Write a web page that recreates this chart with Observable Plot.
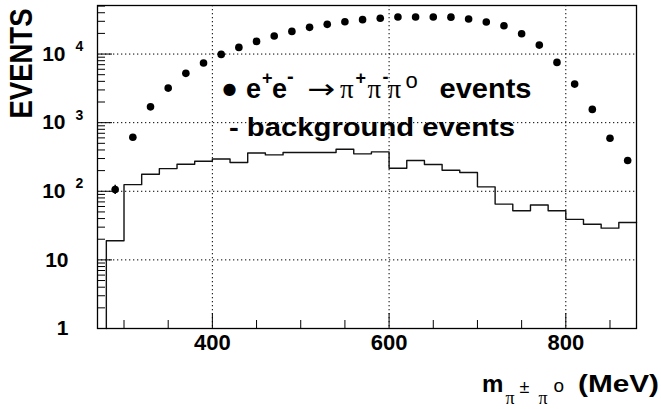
<!DOCTYPE html>
<html>
<head>
<meta charset="utf-8">
<script src="https://cdn.jsdelivr.net/npm/d3@7"></script>
<script src="https://cdn.jsdelivr.net/npm/@observablehq/plot@0.6"></script>
<style>
  html, body { margin: 0; padding: 0; background: #fff; }
  #chart svg { display: block; }
</style>
</head>
<body>
<div id="chart"></div>
<script>
// π±π0 invariant-mass spectrum, 20 MeV bins (bin centres in MeV)
const massBins = [290, 310, 330, 350, 370, 390, 410, 430, 450, 470,
                  490, 510, 530, 550, 570, 590, 610, 630, 650, 670,
                  690, 710, 730, 750, 770, 790, 810, 830, 850, 870];
const binWidth = 20;

// selected e+e- -> π+π-π0 events per bin
const signalEvents = [106, 614, 1700, 3190, 5230, 7390, 9890, 12500, 15300, 18300,
                      21400, 24500, 27100, 29600, 31700, 33200, 34700, 34700, 34700, 34500,
                      32400, 29300, 25900, 19800, 13500, 7560, 3650, 1560, 594, 281];
const signalErrors = [16, 25, 41, 56, 72, 86, 99, 112, 124, 135,
                      146, 157, 165, 172, 178, 182, 186, 186, 186, 186,
                      180, 171, 161, 141, 116, 87, 60, 39, 24, 17];

// estimated background events per bin
const backgroundEvents = [19, 125, 177, 214, 248, 274, 296, 262, 362, 339,
                          367, 367, 367, 410, 351, 375, 217, 281, 245, 203,
                          188, 116, 65, 52, 63, 52, 39, 33, 29, 35];

// axes
const xDomain = [270, 880];
const yDomain = [1, 51000];
const xMajorTicks = [400, 600, 800];
const xTickLabels = ["400", "600", "800"];
const xMinorTicks = [300, 350, 450, 500, 550, 650, 700, 750, 850];
const yMajorTicks = [1, 10, 100, 1000, 10000];
const yTickBase = ["1", "10", "10", "10", "10"];
const yTickExponent = ["", "", "2", "3", "4"];
const yMinorTicks = [1, 10, 100, 1000, 10000]
  .flatMap(d => [2, 3, 4, 5, 6, 7, 8, 9].map(k => k * d))
  .filter(v => v < yDomain[1]);

const signal = massBins.map((m, i) => ({m, n: signalEvents[i], e: signalErrors[i]}));
// outline of the background histogram: rises from the floor at the first bin edge
const bgOutline = [{x: massBins[0] - binWidth / 2, y: yDomain[0]}]
  .concat(massBins.map((m, i) => ({x: m - binWidth / 2, y: backgroundEvents[i]})))
  .concat([{x: massBins[massBins.length - 1] + binWidth / 2, y: backgroundEvents[backgroundEvents.length - 1]}]);
const yLabels = yMajorTicks.map((v, i) => ({v, base: yTickBase[i], exp: yTickExponent[i]}));

const W = 661, H = 409;
const M = {top: 5, right: 25, bottom: 81, left: 97};
const innerW = W - M.left - M.right;
const innerH = H - M.top - M.bottom;
const font = "'Liberation Sans', Arial, Helvetica, sans-serif";
const serif = "'Liberation Serif', 'Times New Roman', serif";

const plot = Plot.plot({
  width: W,
  height: H,
  marginTop: M.top,
  marginRight: M.right,
  marginBottom: M.bottom,
  marginLeft: M.left,
  style: {fontFamily: font, background: "white", color: "black"},
  x: {type: "linear", domain: xDomain, axis: null},
  y: {type: "log", domain: yDomain, axis: null},
  marks: [
    // dotted grid
    Plot.ruleX(xMajorTicks, {x: d => d, stroke: "black", strokeWidth: 1, strokeDasharray: "1.3,2.7"}),
    Plot.ruleY(yMajorTicks.slice(1), {y: d => d, stroke: "black", strokeWidth: 1, strokeDasharray: "1.3,2.7"}),
    // inward ticks
    Plot.ruleX(xMinorTicks, {x: d => d, insetTop: innerH - 8, stroke: "black", strokeWidth: 1}),
    Plot.ruleX(xMajorTicks, {x: d => d, insetTop: innerH - 15, stroke: "black", strokeWidth: 1}),
    Plot.ruleY(yMinorTicks, {y: d => d, insetRight: innerW - 8, stroke: "black", strokeWidth: 1}),
    Plot.ruleY(yMajorTicks, {y: d => d, insetRight: innerW - 15, stroke: "black", strokeWidth: 1}),
    // background histogram
    Plot.line(bgOutline, {x: "x", y: "y", curve: "step-after", stroke: "#111", strokeWidth: 1.4}),
    // signal events with errors
    Plot.ruleX(signal, {x: "m", y1: d => d.n - d.e, y2: d => d.n + d.e, stroke: "black", strokeWidth: 1.5}),
    Plot.dot(signal, {x: "m", y: "n", r: 3.8, fill: "black", stroke: "none"}),
    Plot.frame({stroke: "black", strokeWidth: 1.3}),
    // tick labels
    Plot.text(xMajorTicks, {x: d => d, text: (d, i) => xTickLabels[i], frameAnchor: "bottom", dy: 21,
      fontSize: 22, fontWeight: "bold", fill: "black"}),
    Plot.text(yLabels.filter(d => !d.exp), {y: "v", text: "base", frameAnchor: "left", dx: -29,
      textAnchor: "end", fontSize: 21, fontWeight: "bold", fill: "black"}),
    Plot.text(yLabels.filter(d => d.exp), {y: "v", text: "base", frameAnchor: "left", dx: -32,
      textAnchor: "end", fontSize: 21, fontWeight: "bold", fill: "black"}),
    Plot.text(yLabels.filter(d => d.exp), {y: "v", text: "exp", frameAnchor: "left", dx: -22, dy: -7.5,
      textAnchor: "start", fontSize: 14, fontWeight: "bold", fill: "black"}),
    // axis titles
    Plot.text(["EVENTS"], {text: d => d, frameAnchor: "top-left", dx: -88, dy: 113, rotate: -90,
      textAnchor: "start", fontSize: 31, fontWeight: "bold", fill: "black"}),
    Plot.text(["m π± πo (MeV)"], {text: d => d, frameAnchor: "top-left", dx: 384.5, dy: 386.5,
      lineAnchor: "bottom", textAnchor: "start", fontSize: 24, fontWeight: "bold", fill: "black"}),
    // legend
    Plot.text(["• e+e- → π+π-πo events"], {text: d => d, frameAnchor: "top-left", dx: 125, dy: 92,
      lineAnchor: "bottom", textAnchor: "start", fontSize: 27, fontWeight: "bold", fill: "black"}),
    Plot.text(["- background events"], {text: d => d, frameAnchor: "top-left", dx: 131.5, dy: 130.7,
      lineAnchor: "bottom", textAnchor: "start", fontSize: 26, fontWeight: "bold", fill: "black"})
  ]
});

document.getElementById("chart").appendChild(plot);

// rich text: super/subscripts and symbol glyphs as tspans
const SVGNS = "http://www.w3.org/2000/svg";
function findText(key) {
  return Array.from(plot.querySelectorAll("text")).find(t => t.textContent === key);
}
function setRich(key, parts) {
  const el = findText(key);
  if (!el) return;
  el.textContent = "";
  let prevRise = 0;
  for (const p of parts) {
    const ts = document.createElementNS(SVGNS, "tspan");
    ts.textContent = p.t;
    if (p.x != null) ts.setAttribute("x", p.x);
    const rise = p.rise || 0;
    if (rise !== prevRise) ts.setAttribute("dy", prevRise - rise);
    prevRise = rise;
    if (p.size) ts.setAttribute("font-size", p.size);
    if (p.family) ts.setAttribute("font-family", p.family);
    if (p.weight) ts.setAttribute("font-weight", p.weight);
    if (p.len) { ts.setAttribute("textLength", p.len); ts.setAttribute("lengthAdjust", "spacingAndGlyphs"); }
    el.appendChild(ts);
  }
}
function fitLength(key, len) {
  const el = findText(key);
  if (!el) return;
  el.setAttribute("textLength", len);
  el.setAttribute("lengthAdjust", "spacingAndGlyphs");
}

fitLength("EVENTS", 110);
fitLength("- background events", 286);

setRich("• e+e- → π+π-πo events", [
  {t: "●", x: 0, rise: 4, size: 16, family: "'DejaVu Sans', sans-serif", weight: "normal"},
  {t: "e", x: 23.5, rise: 0},
  {t: "+", x: 39.5, rise: 14, size: 18},
  {t: "e", x: 49.5, rise: 0},
  {t: "-", x: 64.5, rise: 15, size: 20},
  {t: "→", x: 85, rise: 0, size: 27, family: "'DejaVu Sans', sans-serif", weight: "normal", len: 28},
  {t: "π", x: 117.5, rise: 0, family: serif, weight: "normal"},
  {t: "+", x: 133, rise: 14, size: 18},
  {t: "π", x: 145, rise: 0, family: serif, weight: "normal"},
  {t: "-", x: 160, rise: 15, size: 18},
  {t: "π", x: 165, rise: 0, family: serif, weight: "normal"},
  {t: "o", x: 183, rise: 9.5, size: 22, weight: "normal"},
  {t: "events", x: 217, rise: 0, len: 92}
]);

setRich("m π± πo (MeV)", [
  {t: "m", x: 0, rise: 0},
  {t: "π", x: 23.5, rise: -12, size: 18, family: serif, weight: "normal"},
  {t: "±", x: 37.5, rise: -1, size: 18, weight: "normal"},
  {t: "π", x: 56.5, rise: -12, size: 18, family: serif, weight: "normal"},
  {t: "o", x: 71.5, rise: 0, size: 19, weight: "normal"},
  {t: "(MeV)", x: 96, rise: 0, len: 81}
]);
</script>
</body>
</html>
